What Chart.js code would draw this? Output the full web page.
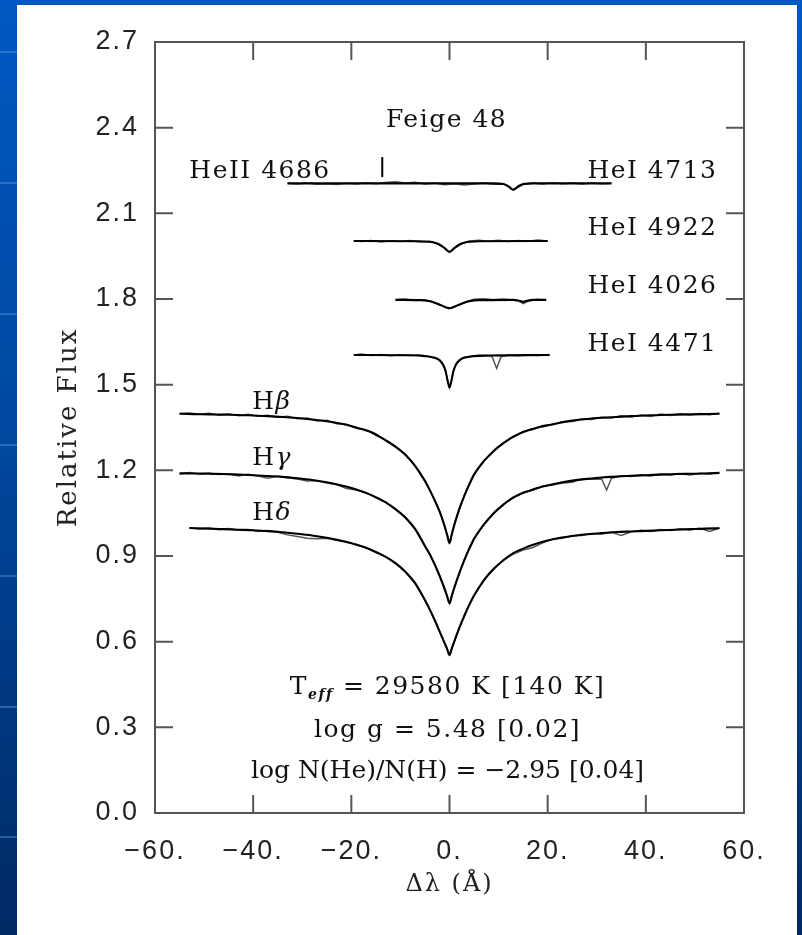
<!DOCTYPE html>
<html>
<head>
<meta charset="utf-8">
<script src="https://cdn.jsdelivr.net/npm/chart.js@4.4.0/dist/chart.umd.min.js"></script>
<style>
  html, body { margin: 0; padding: 0; background: #fff; overflow: hidden; }
  canvas { display: block; }
</style>
</head>
<body>
<canvas id="chart" width="802" height="935"></canvas>
<script>
// axis ranges
const X_MIN = -60, X_MAX = 60, X_STEP = 20;
const Y_MIN = 0, Y_MAX = 2.7, Y_STEP = 0.3;

// Balmer lines: smooth model fits
const BALMER_X = [-55,-52,-49,-46,-43,-40,-37,-34,-31,-28,-25,-22,-19,-16,-13,
  -11,-9,-7,-5,-4,-3,-2,-1,-0.5, 0, 0.5,1,2,3,4,5,7,9,11,13,
  16,19,22,25,28,31,34,37,40,43,46,49,52,55];
const HBETA_MODEL = [1.398,1.397,1.396,1.395,1.394,1.392,1.390,1.387,1.383,1.378,1.372,1.363,1.350,1.334,1.305,
  1.283,1.255,1.216,1.163,1.130,1.095,1.055,1.005,0.975, 0.945,
  0.978,1.010,1.065,1.110,1.150,1.185,1.232,1.268,1.295,1.318,
  1.340,1.354,1.365,1.374,1.380,1.384,1.387,1.390,1.392,1.394,1.395,1.396,1.397,1.398];
const HGAMMA_MODEL = [1.190,1.189,1.188,1.187,1.185,1.183,1.180,1.177,1.172,1.166,1.158,1.147,1.133,1.114,1.088,
  1.064,1.035,0.995,0.935,0.905,0.870,0.830,0.785,0.760, 0.734,
  0.762,0.790,0.840,0.885,0.925,0.960,1.010,1.050,1.080,1.105,
  1.127,1.143,1.155,1.164,1.170,1.175,1.178,1.181,1.183,1.185,1.187,1.188,1.189,1.191];
const HDELTA_X = [-53,-49,-46,-43,-40,-37,-34,-31,-28,-25,-22,-19,-16,-13,
  -11,-9,-7,-5,-4,-3,-2,-1,-0.5, 0, 0.5,1,2,3,4,5,7,9,11,13,
  16,19,22,25,28,31,34,37,40,43,46,49,52,55];
const HDELTA_MODEL = [0.998,0.996,0.994,0.992,0.990,0.987,0.983,0.978,0.972,0.964,0.953,0.940,0.922,0.897,
  0.875,0.845,0.805,0.745,0.712,0.675,0.635,0.595,0.575, 0.553,
  0.578,0.602,0.648,0.690,0.728,0.762,0.815,0.855,0.885,0.910,
  0.933,0.950,0.962,0.970,0.976,0.980,0.984,0.986,0.988,0.990,0.992,0.994,0.996,0.997];

// Balmer lines: observed spectra
const OBS_X = [-55,-53,-51,-49,-47,-45,-43,-41,-39,-37,-35,-33,-31,-29,-27,-25,-23,-21,-19,-17,-15,-13,-11,-9,-7,
  -5,-4,-3,-2,-1,0,1,2,3,4,5,
  7,9,11,13,15,17,19,21,23,25,27,29,31, 32,
  33,35,37,39,41,43,45,47,49,51,53,55];
const HBETA_OBS = [1.399,1.401,1.396,1.400,1.393,1.398,1.391,1.396,1.389,1.393,1.386,1.389,1.381,1.383,1.373,1.375,1.363,1.361,1.347,1.342,1.323,1.307,1.281,1.257,1.214,
  1.162,1.131,1.093,1.056,1.003,0.947,1.012,1.063,1.112,1.148,1.186,
  1.234,1.266,1.297,1.316,1.336,1.343,1.357,1.360,1.370,1.371,1.380,1.378,1.386, 1.384,
  1.383,1.391,1.387,1.394,1.389,1.397,1.392,1.398,1.394,1.399,1.395,1.400];
const HGAMMA_OBS = [1.186,1.192,1.187,1.191,1.185,1.188,1.180,1.186,1.180,1.172,1.179,1.174,1.170,1.163,1.164,1.156,1.150,1.136,1.131,1.122,1.104,1.089,1.062,1.036,0.993,
  0.934,0.906,0.869,0.831,0.784,0.736,0.791,0.839,0.886,0.924,0.961,
  1.012,1.048,1.082,1.103,1.123,1.130,1.145,1.149,1.156,1.158,1.170,1.169,1.170, 1.131,
  1.172,1.181,1.178,1.184,1.180,1.187,1.183,1.189,1.184,1.190,1.187,1.192];
const HDELTA_OBS = [null,0.999,0.995,0.998,0.992,0.996,0.990,0.993,0.986,0.989,0.983,0.974,0.968,0.962,0.960,0.962,0.955,0.951,0.938,0.929,0.912,0.898,0.873,0.846,0.803,
  0.746,0.711,0.676,0.634,0.596,0.555,0.601,0.649,0.689,0.729,0.761,
  0.817,0.853,0.887,0.907,0.921,0.930,0.946,0.959,0.962,0.971,0.972,0.979,0.977, 0.980,
  0.983,0.972,0.985,0.990,0.986,0.993,0.989,0.995,0.991,0.997,0.986,0.998];

// helium lines
const HE4713_OBS_X = [-33,-31,-29,-27,-25,-23,-21,-19,-17,-15,-13,-11,-9,-7,-5,-3,-1,1,3,5,7,9,11,13,15,17,19,21,23,25,27,29,31,33];
const HE4713_OBS = [2.205,2.203,2.206,2.202,2.204,2.201,2.205,2.203,2.207,2.204,2.208,2.211,2.206,2.209,2.203,2.206,2.200,2.204,2.199,2.203,2.206,2.202,2.203,2.181,2.201,2.206,2.203,2.207,2.204,2.206,2.203,2.206,2.204,2.205];
const HE4713_MODEL_X = [-33,-20,-10,0,9,11,12,13,14,15,17,25,33];
const HE4713_MODEL = [2.205,2.205,2.205,2.205,2.205,2.203,2.195,2.183,2.195,2.203,2.205,2.205,2.205];
const HE4686_MARK_X = [-13.7,-13.7];
const HE4686_MARK_Y = [2.227,2.297];

const HE4922_OBS_X = [-19.5,-18,-16,-14,-12,-10,-8,-6,-4,-2,-1,0,1,2,4,6,8,10,12,14,16,18,20];
const HE4922_OBS = [2.004,2.001,2.005,2.000,2.004,2.001,2.005,2.000,2.002,1.991,1.979,1.964,1.980,1.992,2.003,2.006,2.002,2.006,2.001,2.005,2.002,2.007,2.003];
const HE4922_MODEL_X = [-19.5,-6,-3,-2,-1,0,1,2,3,6,20];
const HE4922_MODEL = [2.003,2.002,1.997,1.990,1.978,1.965,1.978,1.990,1.997,2.002,2.003];

const HE4026_OBS_X = [-11,-9,-7,-5,-4,-3,-2,-1,0,1,2,3,4,5,7,9,11,13,14,15,16,18,19.7];
const HE4026_OBS = [1.797,1.800,1.795,1.797,1.793,1.786,1.781,1.772,1.766,1.774,1.781,1.788,1.794,1.799,1.801,1.797,1.800,1.796,1.794,1.784,1.792,1.799,1.796];
const HE4026_MODEL_X = [-11,-6,-4,-3,-2,-1,0,1,2,3,4,6,13,14,15,16,17,19.7];
const HE4026_MODEL = [1.797,1.796,1.792,1.787,1.780,1.773,1.768,1.773,1.780,1.787,1.792,1.796,1.797,1.795,1.790,1.795,1.797,1.797];

const HE4471_OBS_X = [-19.5,-18,-16,-14,-12,-10,-8,-6,-4,-3,-2,-1.3,-0.8,-0.4,0,0.4,0.8,1.3,2,3,4,6,8,8.7,9.6,10.5,12,14,16,18,20.4];
const HE4471_OBS = [1.604,1.607,1.602,1.606,1.601,1.605,1.602,1.604,1.598,1.593,1.586,1.569,1.549,1.516,1.491,1.514,1.547,1.571,1.584,1.596,1.599,1.603,1.601,1.598,1.557,1.598,1.604,1.601,1.605,1.602,1.606];
const HE4471_MODEL_X = [-19.5,-8,-5,-3,-2,-1.3,-0.8,-0.4,0,0.4,0.8,1.3,2,3,5,8,20.4];
const HE4471_MODEL = [1.604,1.603,1.600,1.594,1.585,1.570,1.548,1.515,1.490,1.515,1.548,1.570,1.585,1.594,1.600,1.602,1.604];

const SERIF = '"DejaVu Serif", serif';
const SANS = '"Liberation Sans", Arial, sans-serif';

const pts = (xs, ys) => xs.map((x, i) => ({ x, y: ys[i] }));
const obs = (xs, ys) => ({ data: pts(xs, ys), borderColor: '#555', borderWidth: 1.5, order: 2 });
const fit = (xs, ys) => ({ data: pts(xs, ys), borderColor: '#000', borderWidth: 2.1, order: 1,
                           cubicInterpolationMode: 'monotone' });

// text drawn inside the frame, placed in data units
const LABELS = [
  { x: -0.6, y: 2.426, align: 'center', parts: [['Feige 48']] },
  { x: -53, y: 2.248, align: 'left', parts: [['HeII 4686']] },
  { x: 28.1, y: 2.248, align: 'left', parts: [['HeI 4713']] },
  { x: 28.1, y: 2.048, align: 'left', parts: [['HeI 4922']] },
  { x: 28.1, y: 1.845, align: 'left', parts: [['HeI 4026']] },
  { x: 28.1, y: 1.642, align: 'left', parts: [['HeI 4471']] },
  { x: -40.2, y: 1.436, align: 'left', parts: [['H'], ['\u03b2', 'italic']] },
  { x: -40.2, y: 1.240, align: 'left', parts: [['H'], ['\u03b3', 'italic']] },
  { x: -40.2, y: 1.050, align: 'left', parts: [['H'], ['\u03b4', 'italic']] },
  { x: -0.4, y: 0.438, align: 'center', parts: [['T'], ['eff', 'bold italic', 14, 7], [' = 29580 K [140 K]']] },
  { x: -0.4, y: 0.290, align: 'center', parts: [['log g = 5.48 [0.02]']] },
  { x: -0.4, y: 0.144, align: 'center', spacing: '0px', parts: [['log N(He)/N(H) = \u22122.95 [0.04]']] }
];

const slideBackground = {
  id: 'slideBackground',
  beforeDraw(chart) {
    const ctx = chart.ctx;
    const w = ctx.canvas.width, h = ctx.canvas.height;
    ctx.save();
    const g = ctx.createLinearGradient(0, 0, 0, h);
    g.addColorStop(0, '#0058c2');
    g.addColorStop(0.5, '#00469c');
    g.addColorStop(1, '#002a64');
    ctx.fillStyle = g;
    ctx.fillRect(0, 0, w, h);
    ctx.strokeStyle = 'rgba(90,150,230,0.45)';
    ctx.lineWidth = 2;
    [52, 183, 314, 445, 576, 707, 837].forEach(y => {
      ctx.beginPath(); ctx.moveTo(0, y); ctx.lineTo(17, y); ctx.stroke();
    });
    ctx.fillStyle = '#fff';
    ctx.fillRect(17, 5, w - 22, h - 5);
    ctx.restore();
    // wide glyph spacing for every text drawn afterwards (ticks, titles)
    if ('letterSpacing' in ctx) ctx.letterSpacing = '2px';
  }
};

const frameAndTicks = {
  id: 'frameAndTicks',
  afterDatasetsDraw(chart) {
    const { ctx, chartArea: a, scales } = chart;
    const len = 18;
    ctx.save();
    ctx.strokeStyle = '#555';
    ctx.lineWidth = 2;
    ctx.strokeRect(a.left, a.top, a.right - a.left, a.bottom - a.top);
    ctx.beginPath();
    scales.x.ticks.forEach(t => {
      const px = scales.x.getPixelForValue(t.value);
      if (px <= a.left + 1 || px >= a.right - 1) return;
      ctx.moveTo(px, a.bottom); ctx.lineTo(px, a.bottom - len);
      ctx.moveTo(px, a.top); ctx.lineTo(px, a.top + len);
    });
    scales.y.ticks.forEach(t => {
      const py = scales.y.getPixelForValue(t.value);
      if (py <= a.top + 1 || py >= a.bottom - 1) return;
      ctx.moveTo(a.left, py); ctx.lineTo(a.left + len, py);
      ctx.moveTo(a.right, py); ctx.lineTo(a.right - len, py);
    });
    ctx.stroke();
    ctx.restore();
  }
};

const textLabels = {
  id: 'textLabels',
  afterDraw(chart) {
    const { ctx, scales } = chart;
    ctx.save();
    ctx.fillStyle = '#111';
    ctx.textBaseline = 'middle';
    ctx.textAlign = 'left';
    LABELS.forEach(lab => {
      if ('letterSpacing' in ctx) ctx.letterSpacing = lab.spacing || '1.5px';
      const segs = lab.parts.map(([t, style = '', size = 25, dy = 0]) => {
        ctx.font = `${style} ${size}px ${SERIF}`;
        return { t, font: ctx.font, dy, w: ctx.measureText(t).width };
      });
      const total = segs.reduce((s, g) => s + g.w, 0);
      let x = scales.x.getPixelForValue(lab.x);
      const y = scales.y.getPixelForValue(lab.y);
      if (lab.align === 'center') x -= total / 2;
      segs.forEach(g => {
        ctx.font = g.font;
        ctx.fillText(g.t, x, y + g.dy);
        x += g.w;
      });
    });
    ctx.restore();
  }
};

const fmtX = v => (v < 0 ? '\u2212' + Math.abs(v) : String(v)) + '.';

new Chart(document.getElementById('chart'), {
  type: 'line',
  data: {
    datasets: [
      obs(OBS_X, HBETA_OBS), fit(BALMER_X, HBETA_MODEL),
      obs(OBS_X, HGAMMA_OBS), fit(BALMER_X, HGAMMA_MODEL),
      obs(OBS_X, HDELTA_OBS), fit(HDELTA_X, HDELTA_MODEL),
      obs(HE4713_OBS_X, HE4713_OBS), fit(HE4713_MODEL_X, HE4713_MODEL),
      obs(HE4922_OBS_X, HE4922_OBS), fit(HE4922_MODEL_X, HE4922_MODEL),
      obs(HE4026_OBS_X, HE4026_OBS), fit(HE4026_MODEL_X, HE4026_MODEL),
      obs(HE4471_OBS_X, HE4471_OBS), fit(HE4471_MODEL_X, HE4471_MODEL),
      { data: pts(HE4686_MARK_X, HE4686_MARK_Y), borderColor: '#000', borderWidth: 2, order: 0 }
    ]
  },
  options: {
    responsive: false,
    animation: false,
    devicePixelRatio: 1,
    layout: { padding: { left: 0, right: 58, top: 42, bottom: 0 } },
    elements: { point: { radius: 0 }, line: { tension: 0, fill: false } },
    plugins: { legend: { display: false }, tooltip: { enabled: false } },
    scales: {
      x: {
        type: 'linear', min: X_MIN, max: X_MAX,
        grid: { display: false, drawTicks: false },
        border: { display: false },
        ticks: { stepSize: X_STEP, padding: 22, color: '#222', maxRotation: 0, autoSkip: false,
                 font: { family: SANS, size: 27 }, callback: fmtX },
        title: { display: true, text: '\u0394\u03bb (\u00c5)', color: '#222',
                 font: { family: SERIF, size: 24 }, padding: { top: 0, bottom: 36 } },
        afterFit: s => { s.height = 122; }
      },
      y: {
        type: 'linear', min: Y_MIN, max: Y_MAX,
        grid: { display: false, drawTicks: false },
        border: { display: false },
        ticks: { stepSize: Y_STEP, padding: 16, color: '#222', autoSkip: false,
                 font: { family: SANS, size: 27 }, callback: v => v.toFixed(1) },
        title: { display: true, text: 'Relative Flux', color: '#222',
                 font: { family: SERIF, size: 26 }, padding: { top: 54, bottom: 0 } },
        afterFit: s => { s.width = 155; }
      }
    }
  },
  plugins: [slideBackground, frameAndTicks, textLabels]
});
</script>
</body>
</html>
